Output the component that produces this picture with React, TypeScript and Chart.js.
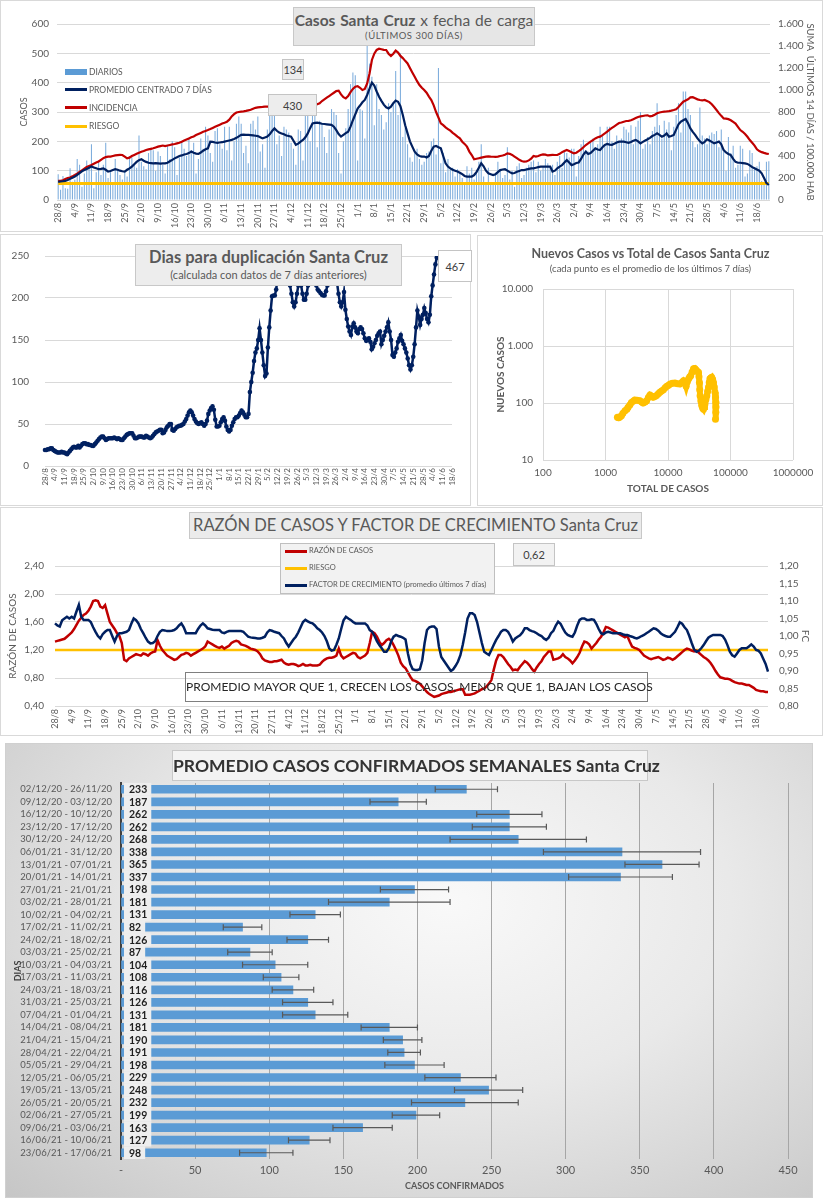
import React, { useEffect, useRef } from "react";
import { Chart, registerables } from "chart.js";
Chart.register(...registerables);

const FONT = "Lato, 'Open Sans', sans-serif";
Chart.defaults.font.family = FONT;
Chart.defaults.color = "#595959";
const GRID = "#D9D9D9";
const TXT = "#595959";
const NAVY = "#002060";
const RED = "#C00000";
const GOLD = "#FFC000";
const BLUE = "#5B9BD5";
const LIGHT_BLUE = "#7FAEDD";

function buildDays(n: number): string[] {
  const out: string[] = [];
  for (let i = 0; i < n; i++) {
    const d = new Date(2020, 7, 28 + i);
    out.push(d.getDate() + "/" + (d.getMonth() + 1));
  }
  return out;
}
const DAYS = buildDays(300);

// --- Chart 1: casos diarios ---
const DIARIOS = [
  88,35,82,40,38,108,62, 70,140,120,45,90,135,110, 190,40,95,130,85,120,195, 75,95,60,140,105,85,70,
  100,80,150,145,120,110,220, 130,115,105,160,175,170,100, 165,150,120,90,185,140,200, 180,85,145,200,175,150,210,
  170,195,90,140,210,175,250, 220,160,130,235,245,190,175, 250,170,250,135,200,260,285, 260,160,185,125,260,270,240,
  285,165,190,110,240,300,310, 290,190,220,150,250,240,230, 195,175,120,240,235,135,320, 290,200,330,320,180,270,260,
  215,160,240,310,300,290,160, 90,200,245,310,395,435,425, 135,310,305,210,530,465,420, 255,395,310,290,240,265,330,
  300,330,440,290,500,215,245, 190,145,130,160,175,140,120, 130,160,165,200,210,155,450, 125,160,95,140,105,110,80,
  105,90,75,60,115,90,110, 70,95,130,190,80,60,110, 55,60,90,130,105,75,85, 180,70,100,45,115,125,75,
  85,110,120,130,135,95,130, 100,115,140,125,110,120,85, 130,150,110,165,160,145,175, 175,80,150,190,205,170,165,
  195,210,175,190,250,220,190, 250,250,200,175,220,200,210, 250,240,230,255,190,250,270, 300,175,190,215,190,235,250,
  330,255,210,270,240,265,170, 250,290,330,230,370,370,310, 290,200,180,190,315,220,210, 190,220,230,225,235,180,240,
  165,100,215,160,185,110,120, 185,175,80,90,170,160,110, 115,130,65,60,130,132,
];
const PROMEDIO_7D = [
  62,63,64,65,68,72,76,80,86,92, 98,102,106,110,114,111,108,105,106,108, 103,97,99,102,105,103,100,98,97,103,
  108,114,122,130,136,139,134,130,127,126, 125,126,125,124,125,125,127,132,137,142, 146,150,152,155,157,160,165,161,158,157,
  162,168,173,176,199,198,196,195,196,197, 199,201,203,205,208,212,217,222,223,222, 222,221,220,219,218,214,210,213,216,224,
  235,244,236,230,227,224,220,218,216,202, 188,192,199,205,214,227,245,261,263,264, 262,260,259,258,257,256,250,238,225,216,
  222,228,233,250,272,292,312,322,333,341, 358,380,400,390,370,352,338,325,316,312, 318,330,339,335,320,290,255,227,200,182,
  165,155,150,148,148,145,150,168,182,184, 180,176,150,125,114,108,103,100,97,93, 88,82,80,80,80,85,95,110,125,115,
  100,91,88,85,88,95,102,104,105,100, 95,91,92,96,99,102,102,104,106,108, 108,110,112,114,114,114,114,114,97,100,
  108,114,119,128,136,128,119,122,126,128, 140,155,165,157,160,168,176,172,170,180, 188,191,189,188,192,196,199,199,199,197,
  195,198,202,205,200,193,198,203,207,212, 218,222,227,222,216,220,227,216,218,222, 240,258,267,272,276,262,244,232,222,210,
  200,193,198,207,203,198,193,196,199,190, 170,162,157,153,140,130,127,127,126,125, 123,118,112,108,104,100,91,75,58,51,
];
const INCIDENCIA = [
  173,175,180,190,200,205,215,227,240,255, 270,285,300,310,318,330,340,350,365,380, 390,394,395,400,405,408,410,409,395,379,
  385,400,410,420,430,439,445,455,460,465, 470,478,485,490,495,490,495,500,505,509, 515,520,530,540,550,560,570,578,590,600,
  610,620,628,636,645,655,665,675,685,695, 703,712,730,760,780,795,800,803,806,810, 815,820,830,838,842,845,846,848,848,848,
  848,848,846,845,846,848,850,852,853,850, 848,846,845,848,850,855,858,860,864,870, 880,900,915,930,945,960,975,990,994,960,
  935,924,945,980,1010,1030,1035,1020,1000,1010, 1060,1150,1273,1330,1364,1375,1370,1365,1364,1330, 1309,1330,1358,1340,1310,1290,1265,1242,1200,1160,
  1120,1080,1045,1020,1000,975,940,909,860,800, 750,697,680,660,645,630,610,595,576,560, 530,510,485,440,409,370,375,380,385,390,
  394,396,394,393,392,395,400,405,412,424, 420,410,395,380,365,355,348,350,360,375, 400,395,400,409,415,412,405,408,410,409,
  409,420,435,445,455,445,435,424,430,445, 460,480,500,515,530,545,560,570,576,590, 605,621,640,655,670,685,700,705,712,718,
  720,725,735,745,755,760,764,768,770,760, 765,775,788,795,800,803,805,808,812,818, 825,845,870,894,905,915,933,935,925,915,
  909,905,910,900,890,870,845,818,790,765, 742,740,735,725,710,695,665,636,620,600, 575,545,520,495,461,445,435,428,422,418,
];
const RIESGO_INCIDENCIA = 150;

// --- Chart 2: días para duplicación ---
const DUPLICACION = [
  19,19,20,20,21,21,19,18,17,16, 16,16,17,16,16,15,14,16,18,20, 22,23,22,22,24,22,24,26,27,27,
  26,26,25,25,24,24,26,28,30,32, 34,35,35,33,31,32,33,33,33,33, 34,33,32,33,32,31,31,33,35,37,
  38,39,39,39,36,33,33,34,35,35, 35,34,34,36,35,34,33,34,36,38, 40,41,42,43,43,39,40,43,46,48,
  50,50,43,42,44,46,47,48,48,49, 50,53,56,60,64,66,64,60,56,53, 51,50,51,52,50,48,50,54,62,66,
  69,71,67,55,47,47,48,52,56,58, 54,47,43,41,43,48,52,56,58,58, 60,63,66,64,61,58,58,62,88,100,
  111,125,135,140,150,164,150,135,120,107, 110,141,165,185,202,203,203,210,225,240, 250,260,255,245,235,228,220,215,205,195,
  190,195,205,215,225,215,205,198,198,205, 215,225,235,240,235,225,215,210,208,206, 204,203,203,208,215,225,235,240,238,232,
  225,218,205,195,190,195,207,186,175,166, 160,156,166,170,165,160,158,163,165,163, 158,152,149,150,152,148,139,142,146,150,
  155,158,160,145,150,155,160,165,171,160, 150,132,130,135,140,148,152,156,149,145, 140,135,128,120,115,120,130,145,165,185,
  178,168,175,180,188,182,175,171,180,202, 215,228,240,248,250,265,300,360,420,467,
];

// --- Chart 3: nuevos casos vs total ---
const TOTAL_CASOS = [
  1550,1620,1700,1800,1900,2050,2200,2300,2450,2600,2800,2950,3200,3550,3800,4000,4300,4550,4850,5150,
  5500,5800,6150,6550,7000,7400,7900,8450,9000,9550,10200,10800,11800,12900,14200,15500,16600,17700,18600,19500,
  20400,21400,22200,23100,24300,25600,26800,28000,29300,30700,31300,31800,32200,32600,33600,34700,35800,37000,38000,39000,
  40400,41800,43100,44500,45700,46900,48400,50000,51700,53400,55000,56500,57600,58600,58600,58300,57500,
];
const NUEVOS_CASOS = [
  56,55,57,60,66,73,78,84,92,102,108,113,112,110,104,100,104,110,125,138,
  132,126,130,135,145,154,162,171,185,196,205,215,222,224,218,215,228,245,232,196,
  235,265,285,302,350,397,405,382,360,346,290,230,170,134,108,90,82,78,85,96,
  115,134,160,188,230,265,275,283,260,230,190,154,125,102,85,69,52,
];

// --- Chart 4: razón de casos y factor de crecimiento ---
const RAZON = [
  1.32,1.33,1.34,1.35,1.36,1.39,1.42,1.45,1.50,1.56, 1.62,1.66,1.70,1.72,1.76,1.82,1.90,1.91,1.90,1.82,
  1.80,1.84,1.72,1.60,1.55,1.50,1.44,1.40,1.30,1.06, 1.04,1.08,1.10,1.12,1.14,1.13,1.12,1.15,1.14,1.12,
  1.15,1.17,1.18,1.34,1.26,1.20,1.16,1.12,1.10,1.08, 1.06,1.07,1.10,1.13,1.14,1.16,1.15,1.12,1.14,1.16,
  1.18,1.20,1.22,1.25,1.32,1.30,1.28,1.26,1.24,1.23, 1.25,1.22,1.24,1.26,1.30,1.32,1.33,1.32,1.28,1.27,
  1.26,1.24,1.22,1.21,1.20,1.18,1.14,1.08,1.05,1.04, 1.03,1.03,1.04,1.04,1.05,1.06,1.02,1.00,0.99,1.00,
  1.00,0.99,0.97,0.98,1.00,0.98,0.98,0.99,0.98,0.98, 0.98,0.99,1.03,1.06,1.08,1.09,1.09,1.10,1.12,1.22,
  1.12,1.08,1.10,1.12,1.14,1.16,1.15,1.10,1.08,1.10, 1.12,1.16,1.30,1.46,1.44,1.39,1.32,1.27,1.30,1.34,
  1.36,1.33,1.27,1.20,1.12,1.02,0.97,0.94,0.88,0.82, 0.77,0.76,0.74,0.72,0.68,0.64,0.60,0.57,0.55,0.53,
  0.54,0.55,0.57,0.58,0.59,0.60,0.60,0.61,0.62,0.63, 0.64,0.64,0.56,0.56,0.56,0.57,0.58,0.60,0.62,0.64,
  0.65,0.68,0.72,0.77,0.92,1.05,1.13,1.13,1.10,1.05, 1.00,0.96,0.91,0.92,0.91,0.96,1.00,1.04,1.02,0.98,
  0.93,0.89,0.95,1.00,1.04,1.10,1.14,1.18,1.18,1.06, 1.07,1.08,1.10,1.14,1.10,1.08,1.05,1.01,1.05,1.10,
  1.16,1.25,1.32,1.31,1.28,1.22,1.26,1.30,1.35,1.39, 1.45,1.53,1.52,1.50,1.48,1.46,1.44,1.42,1.40,1.38,
  1.40,1.32,1.25,1.23,1.22,1.20,1.16,1.12,1.10,1.08, 1.07,1.08,1.09,1.10,1.08,1.06,1.07,1.09,1.08,1.06,
  1.08,1.11,1.14,1.17,1.20,1.22,1.21,1.19,1.18,1.19, 1.16,1.13,1.10,1.08,1.05,1.01,0.96,0.90,0.85,0.81,
  0.80,0.79,0.79,0.78,0.76,0.74,0.73,0.72,0.72,0.71, 0.70,0.70,0.68,0.66,0.63,0.62,0.61,0.61,0.60,0.60,
];
const FACTOR_CRECIMIENTO = [
  1.036,1.030,1.027,1.045,1.050,1.055,1.050,1.055,1.050,1.070, 1.089,1.055,1.046,1.046,1.046,1.040,1.025,1.012,1.000,0.993,
  1.005,1.012,1.017,1.017,1.000,0.984,1.000,1.008,1.008,1.010, 1.012,1.017,1.035,1.050,1.045,1.036,1.020,1.008,0.995,0.984,
  0.979,0.980,0.985,1.000,1.012,1.017,1.016,1.014,1.014,1.015, 1.017,1.022,1.030,1.036,1.025,1.008,1.008,1.008,1.008,1.008,
  1.020,1.030,1.036,1.030,1.022,1.020,1.018,1.017,1.017,1.017, 1.010,1.008,1.012,1.014,1.014,1.014,1.014,1.014,1.014,1.012,
  1.005,0.998,0.996,0.995,0.994,0.993,0.993,0.995,0.998,1.010, 1.017,1.015,1.012,1.010,1.008,1.000,0.993,0.980,0.970,0.980,
  0.990,0.998,1.010,1.025,1.040,1.046,1.042,1.038,1.036,1.030, 1.022,1.017,1.010,1.000,0.985,0.965,0.958,0.960,0.975,0.993,
  1.020,1.045,1.055,1.050,1.046,1.040,1.036,1.036,1.036,1.036, 1.036,1.030,1.017,1.012,1.000,0.985,0.974,0.965,0.955,0.955,
  0.965,0.985,0.998,1.003,1.000,0.998,0.995,0.990,0.950,0.920, 0.905,0.903,0.903,0.905,0.930,0.980,1.017,1.025,1.027,1.027,
  1.020,0.970,0.940,0.930,0.920,0.910,0.900,0.905,0.915,0.927, 0.945,0.975,1.010,1.050,1.065,1.065,1.060,1.040,1.010,0.980,
  0.955,0.950,0.946,0.960,0.975,0.989,1.000,1.012,1.017,1.017, 1.012,1.000,0.984,0.993,0.998,1.002,1.010,1.022,1.022,1.017,
  1.014,1.012,1.008,1.003,1.000,0.993,0.989,0.995,1.008,1.015, 1.030,1.041,1.035,1.022,1.010,1.003,1.000,0.998,1.010,1.030,
  1.046,1.050,1.050,1.046,1.046,1.048,1.046,1.035,1.020,1.008, 1.005,1.010,1.012,1.010,1.008,1.008,1.008,1.008,1.005,1.003,
  1.003,1.000,0.998,0.995,0.993,0.996,1.000,1.003,1.008,1.012, 1.017,1.022,1.020,1.015,1.008,1.003,1.000,0.998,0.998,1.005,
  1.012,1.025,1.039,1.035,1.025,1.017,1.000,0.980,0.962,0.955, 0.958,0.965,0.974,0.985,0.995,1.000,1.003,1.003,1.003,1.003,
  1.000,0.990,0.974,0.955,0.945,0.941,0.950,0.960,0.965,0.965, 0.965,0.970,0.976,0.970,0.960,0.958,0.950,0.935,0.920,0.898,
];
const RIESGO_RAZON = 1.2;

// --- Chart 5: promedio semanal ---
const SEMANAS = [
  "02/12/20 - 26/11/20","09/12/20 - 03/12/20","16/12/20 - 10/12/20","23/12/20 - 17/12/20","30/12/20 - 24/12/20",
  "06/01/21 - 31/12/20","13/01/21 - 07/01/21","20/01/21 - 14/01/21","27/01/21 - 21/01/21","03/02/21 - 28/01/21",
  "10/02/21 - 04/02/21","17/02/21 - 11/02/21","24/02/21 - 18/02/21","03/03/21 - 25/02/21","10/03/21 - 04/03/21",
  "17/03/21 - 11/03/21","24/03/21 - 18/03/21","31/03/21 - 25/03/21","07/04/21 - 01/04/21","14/04/21 - 08/04/21",
  "21/04/21 - 15/04/21","28/04/21 - 22/04/21","05/05/21 - 29/04/21","12/05/21 - 06/05/21","19/05/21 - 13/05/21",
  "26/05/21 - 20/05/21","02/06/21 - 27/05/21","09/06/21 - 03/06/21","16/06/21 - 10/06/21","23/06/21 - 17/06/21",
];
const PROMEDIO_SEMANAL = [233,187,262,262,268,338,365,337,198,181,131,82,126,87,104,108,116,126,131,181,190,191,198,229,248,232,199,163,127,98];
const ERROR_SEMANAL = [21,19,22,25,46,53,25,35,23,41,17,13,14,15,22,12,14,17,22,19,13,11,20,24,23,36,16,20,14,18];

const miles = (v: number) => String(Math.round(v)).replace(/\B(?=(\d{3})+(?!\d))/g, ".");
const coma = (v: number, d: number) => v.toFixed(d).replace(".", ",");

const weeklyTicks = (size: number, pad: number) => ({
  autoSkip: false,
  minRotation: 90,
  maxRotation: 90,
  padding: pad,
  font: { size },
  color: TXT,
  callback: (_v: any, i: number) => (i % 7 === 0 ? DAYS[i] : ""),
});

const base = {
  animation: false,
  responsive: false,
  events: [],
  plugins: { legend: { display: false }, tooltip: { enabled: false } },
};

function ChartBox({ left, top, width, height, make }: { left: number; top: number; width: number; height: number; make: () => any }) {
  const ref = useRef<HTMLCanvasElement | null>(null);
  useEffect(() => {
    if (!ref.current) return;
    const chart = new Chart(ref.current, make());
    return () => chart.destroy();
  }, []);
  return <canvas ref={ref} width={width} height={height} style={{ position: "absolute", left, top, width, height }} />;
}

const makeCasos = () => ({
  type: "bar",
  data: {
    labels: DAYS,
    datasets: [
      { type: "line", label: "PROMEDIO CENTRADO 7 DÍAS", data: PROMEDIO_7D, borderColor: NAVY, borderWidth: 2.2, pointRadius: 0, yAxisID: "y", order: 1 },
      { type: "line", label: "INCIDENCIA", data: INCIDENCIA, borderColor: RED, borderWidth: 2.2, pointRadius: 0, yAxisID: "y2", order: 2 },
      { type: "line", label: "RIESGO", data: DAYS.map(() => RIESGO_INCIDENCIA), borderColor: GOLD, borderWidth: 3, pointRadius: 0, yAxisID: "y2", order: 3 },
      { type: "bar", label: "DIARIOS", data: DIARIOS, backgroundColor: LIGHT_BLUE, yAxisID: "y", order: 4, categoryPercentage: 0.9, barPercentage: 0.5 },
    ],
  },
  options: {
    ...base,
    layout: { padding: { top: 24, left: 0, right: 0, bottom: 0 } },
    scales: {
      x: { ticks: weeklyTicks(9, 3), grid: { display: false, drawTicks: false }, border: { display: false }, afterFit: (s: any) => { s.height = 32; } },
      y: {
        position: "left", min: 0, max: 600,
        ticks: { stepSize: 100, padding: 8, font: { size: 10 }, color: TXT },
        grid: { color: GRID, drawTicks: false }, border: { display: false },
        title: { display: true, text: "CASOS", font: { size: 9 }, color: TXT, padding: { top: 19, bottom: 0 } },
        afterFit: (s: any) => { s.width = 57; },
      },
      y2: {
        position: "right", min: 0, max: 1600,
        ticks: { stepSize: 200, padding: 8, font: { size: 10 }, color: TXT, callback: (v: any) => miles(v) },
        grid: { display: false, drawTicks: false }, border: { display: false },
        title: { display: true, text: "SUMA  ÚLTIMOS 14 DÍAS / 100.000 HAB", font: { size: 9.5 }, color: TXT, padding: { top: 7, bottom: 0 } },
        afterFit: (s: any) => { s.width = 53; },
      },
    },
  },
});

const makeDuplicacion = () => ({
  type: "line",
  data: {
    labels: DAYS.slice(0, 295),
    datasets: [
      { label: "Días para duplicación", data: DUPLICACION, borderColor: NAVY, borderWidth: 2.5, pointRadius: 2.3, pointBackgroundColor: NAVY, pointBorderWidth: 0 },
    ],
  },
  options: {
    ...base,
    layout: { padding: { top: 12, left: 0, right: 18, bottom: 0 } },
    scales: {
      x: { ticks: weeklyTicks(8, 2), grid: { display: false, drawTicks: false }, border: { display: false }, afterFit: (s: any) => { s.height = 39; } },
      y: {
        min: 0, max: 250,
        ticks: { stepSize: 50, padding: 16, font: { size: 10 }, color: TXT },
        grid: { color: GRID, drawTicks: false }, border: { display: false },
        afterFit: (s: any) => { s.width = 45; },
      },
    },
  },
});

const logTicks = (vals: number[]) => (s: any) => { s.ticks = vals.map((value) => ({ value })); };

const makeScatter = () => ({
  type: "scatter",
  data: {
    datasets: [
      {
        label: "Nuevos casos",
        data: TOTAL_CASOS.map((t, i) => ({ x: t, y: NUEVOS_CASOS[i] })),
        showLine: true, borderColor: GOLD, borderWidth: 6, backgroundColor: GOLD, pointRadius: 3.5, pointBorderWidth: 0,
      },
    ],
  },
  options: {
    ...base,
    layout: { padding: { top: 53, left: 0, right: 30, bottom: 0 } },
    scales: {
      x: {
        type: "logarithmic", min: 100, max: 1000000,
        afterBuildTicks: logTicks([100, 1000, 10000, 100000, 1000000]),
        ticks: { padding: 7, font: { size: 10 }, color: TXT, callback: (v: any) => String(v) },
        grid: { color: GRID, drawTicks: false }, border: { display: false },
        title: { display: true, text: "TOTAL DE CASOS", font: { size: 10, weight: "bold" }, color: TXT, padding: { top: 0, bottom: 10 } },
        afterFit: (s: any) => { s.height = 45; },
      },
      y: {
        type: "logarithmic", min: 10, max: 10000,
        afterBuildTicks: logTicks([10, 100, 1000, 10000]),
        ticks: { padding: 10, font: { size: 10 }, color: TXT, callback: (v: any) => miles(v) },
        grid: { color: GRID, drawTicks: false }, border: { display: false },
        title: { display: true, text: "NUEVOS CASOS", font: { size: 10, weight: "bold" }, color: TXT, padding: { top: 17, bottom: 0 } },
        afterFit: (s: any) => { s.width = 65; },
      },
    },
  },
});

const makeRazon = () => ({
  type: "line",
  data: {
    labels: DAYS,
    datasets: [
      { label: "RAZÓN DE CASOS", data: RAZON, borderColor: RED, borderWidth: 2.5, pointRadius: 0, yAxisID: "y", order: 2 },
      { label: "RIESGO", data: DAYS.map(() => RIESGO_RAZON), borderColor: GOLD, borderWidth: 2.5, pointRadius: 0, yAxisID: "y", order: 3 },
      { label: "FACTOR DE CRECIMIENTO (promedio últimos 7 días)", data: FACTOR_CRECIMIENTO, borderColor: NAVY, borderWidth: 2.5, pointRadius: 0, yAxisID: "y2", order: 1 },
    ],
  },
  options: {
    ...base,
    layout: { padding: { top: 59, left: 0, right: 0, bottom: 0 } },
    scales: {
      x: { ticks: weeklyTicks(9, 3), grid: { display: false, drawTicks: false }, border: { display: false }, afterFit: (s: any) => { s.height = 29; } },
      y: {
        position: "left", min: 0.4, max: 2.4,
        ticks: { stepSize: 0.2, padding: 11, font: { size: 10 }, color: TXT, callback: (v: any) => coma(v, 2) },
        grid: { color: GRID, drawTicks: false }, border: { display: false },
        title: { display: true, text: "RAZÓN DE CASOS", font: { size: 10 }, color: TXT, padding: { top: 7, bottom: 0 } },
        afterFit: (s: any) => { s.width = 55; },
      },
      y2: {
        position: "right", min: 0.8, max: 1.2,
        ticks: { stepSize: 0.05, padding: 11, font: { size: 10 }, color: TXT, callback: (v: any) => coma(v, 2) },
        grid: { display: false, drawTicks: false }, border: { display: false },
        title: { display: true, text: "FC", font: { size: 10 }, color: TXT, padding: { top: 12, bottom: 0 } },
        afterFit: (s: any) => { s.width = 55; },
      },
    },
  },
});

const barExtras = {
  id: "barExtras",
  afterDatasetsDraw(chart: any) {
    const { ctx } = chart;
    const x = chart.scales.x;
    const meta = chart.getDatasetMeta(0);
    const x0 = x.getPixelForValue(0);
    ctx.save();
    ctx.strokeStyle = "#595959";
    ctx.lineWidth = 1.2;
    meta.data.forEach((bar: any, i: number) => {
      const v = PROMEDIO_SEMANAL[i];
      const e = ERROR_SEMANAL[i];
      const xa = x.getPixelForValue(v - e);
      const xb = x.getPixelForValue(v + e);
      const y = bar.y;
      ctx.beginPath();
      ctx.moveTo(xa, y); ctx.lineTo(xb, y);
      ctx.moveTo(xa, y - 3); ctx.lineTo(xa, y + 3);
      ctx.moveTo(xb, y - 3); ctx.lineTo(xb, y + 3);
      ctx.stroke();
    });
    ctx.font = `bold 10.5px ${FONT}`;
    ctx.textBaseline = "middle";
    meta.data.forEach((bar: any, i: number) => {
      const t = String(PROMEDIO_SEMANAL[i]);
      const w = ctx.measureText(t).width;
      ctx.fillStyle = "#EEEEEE";
      ctx.fillRect(x0 + 3, bar.y - 6.3, w + 9, 12.6);
      ctx.fillStyle = "#1F1F1F";
      ctx.fillText(t, x0 + 8, bar.y + 0.5);
    });
    ctx.restore();
  },
};

const makeSemanal = () => ({
  type: "bar",
  data: {
    labels: SEMANAS,
    datasets: [{ label: "Promedio semanal", data: PROMEDIO_SEMANAL, backgroundColor: BLUE, barThickness: 8 }],
  },
  plugins: [barExtras],
  options: {
    ...base,
    indexAxis: "y",
    layout: { padding: { top: 40, left: 0, right: 25, bottom: 0 } },
    scales: {
      x: {
        min: 0, max: 450,
        ticks: { stepSize: 50, padding: 5, font: { size: 11 }, color: TXT, callback: (v: any) => (v === 0 ? "-" : String(v)) },
        grid: { color: "#A6A6A6", drawTicks: false }, border: { display: false },
        title: { display: true, text: "CASOS CONFIRMADOS", font: { size: 9, weight: "bold" }, color: TXT, padding: { top: 0, bottom: 7 } },
        afterFit: (s: any) => { s.height = 39; },
      },
      y: {
        ticks: { autoSkip: false, padding: 9, font: { size: 9.5 }, color: TXT },
        grid: { display: false, drawTicks: false }, border: { display: true, color: "#404040", width: 2 },
        title: { display: true, text: "DIAS", font: { size: 9, weight: "bold" }, color: "#404040", padding: { top: 8, bottom: 0 } },
        afterFit: (s: any) => { s.width = 116; },
      },
    },
  },
});

const abs = (left: number, top: number, width: number, height: number, extra: React.CSSProperties = {}): React.CSSProperties => ({
  position: "absolute", left, top, width, height, boxSizing: "border-box", pointerEvents: "none", ...extra,
});

const labelBox = (left: number, top: number, width: number, height: number, text: string, bg: string) => (
  <div style={abs(left, top, width, height, { background: bg, border: "1px solid #C4C4C4", display: "flex", alignItems: "center", justifyContent: "center", fontSize: 11, color: "#404040" })}>{text}</div>
);

function LegendLine({ x, y, color, text, rect, size }: { x: number; y: number; color: string; text: string; rect?: boolean; size: number }) {
  return (
    <>
      <div style={abs(x, y - (rect ? 3 : 1.5), 22, rect ? 6 : 3, { background: color })} />
      <div style={abs(x + 24, y - 7, 260, 14, { fontSize: size, lineHeight: "14px", color: TXT, whiteSpace: "nowrap" })}>{text}</div>
    </>
  );
}

export default function App() {
  return (
    <div style={{ position: "absolute", left: 0, top: 0, width: 823, height: 1200, background: "#FFFFFF", fontFamily: FONT, overflow: "hidden" }}>
      {/* Panel 1 */}
      <div style={abs(0, 0, 823, 232, { border: "1px solid #D9D9D9" })} />
      <ChartBox left={0} top={0} width={823} height={232} make={makeCasos} />
      <div style={abs(293, 7, 242, 39, { background: "#E6E6E6", border: "1px solid #C8C8C8", textAlign: "center", color: TXT, whiteSpace: "nowrap" })}>
        <div style={{ fontSize: 15.5, lineHeight: "20px", marginTop: 2, wordSpacing: 1 }}><b>Casos Santa Cruz</b> x fecha de carga</div>
        <div style={{ fontSize: 9.5, lineHeight: "12px", letterSpacing: 0.5 }}>(ÚLTIMOS 300 DÍAS)</div>
      </div>
      <LegendLine x={65} y={71.5} color={BLUE} text="DIARIOS" rect size={8.5} />
      <LegendLine x={65} y={89.5} color={NAVY} text="PROMEDIO CENTRADO 7 DÍAS" size={8.5} />
      <LegendLine x={65} y={107.5} color={RED} text="INCIDENCIA" size={8.5} />
      <LegendLine x={65} y={126} color={GOLD} text="RIESGO" size={8.5} />
      {labelBox(282, 59, 22, 21, "134", "#EDEDED")}
      {labelBox(268, 94, 49, 22, "430", "#EDEDED")}

      {/* Panel 2 */}
      <div style={abs(0, 234, 471, 272, { border: "1px solid #D9D9D9" })} />
      <ChartBox left={0} top={234} width={470} height={271} make={makeDuplicacion} />
      <div style={abs(135, 244, 267, 42, { background: "#EDEDED", border: "1px solid #C8C8C8", textAlign: "center", color: TXT, whiteSpace: "nowrap" })}>
        <div style={{ fontSize: 16.5, fontWeight: 700, lineHeight: "21px", marginTop: 2 }}>Dias para duplicación Santa Cruz</div>
        <div style={{ fontSize: 11, lineHeight: "14px" }}>(calculada con datos de 7 días anteriores)</div>
      </div>
      {labelBox(438, 250, 34, 32, "467", "#FFFFFF")}

      {/* Panel 3 */}
      <div style={abs(477, 235, 346, 271, { border: "1px solid #D9D9D9" })} />
      <ChartBox left={478} top={236} width={345} height={269} make={makeScatter} />
      <div style={abs(478, 245, 345, 18, { textAlign: "center", fontSize: 12.5, fontWeight: 700, color: TXT, lineHeight: "18px", whiteSpace: "nowrap" })}>Nuevos Casos vs Total de Casos Santa Cruz</div>
      <div style={abs(478, 262, 345, 13, { textAlign: "center", fontSize: 9.5, color: TXT, lineHeight: "13px", whiteSpace: "nowrap" })}>(cada punto es el promedio de los últimos 7 días)</div>

      {/* Panel 4 */}
      <div style={abs(0, 507, 823, 229, { border: "1px solid #D9D9D9" })} />
      <ChartBox left={0} top={507} width={823} height={228} make={makeRazon} />
      <div style={abs(189, 512, 453, 27, { background: "#EBEBEB", border: "1px solid #C8C8C8", textAlign: "center", color: TXT, fontSize: 16.5, lineHeight: "25px", whiteSpace: "nowrap" })}>RAZÓN DE CASOS Y FACTOR DE CRECIMIENTO Santa Cruz</div>
      <div style={abs(280, 543, 215, 51, { background: "#F2F2F2", border: "1px solid #BFBFBF" })} />
      <LegendLine x={285} y={551} color={RED} text="RAZÓN DE CASOS" size={7.5} />
      <LegendLine x={285} y={568} color={GOLD} text="RIESGO" size={7.5} />
      <LegendLine x={285} y={585} color={NAVY} text="FACTOR DE CRECIMIENTO (promedio últimos 7 días)" size={7.5} />
      {labelBox(513, 543, 42, 23, "0,62", "#F2F2F2")}
      <div style={abs(185, 672, 463, 30, { border: "1px solid #7F7F7F", textAlign: "center", color: "#262626", fontSize: 12, lineHeight: "28px", whiteSpace: "nowrap" })}>PROMEDIO MAYOR QUE 1, CRECEN LOS CASOS, MENOR QUE 1, BAJAN LOS CASOS</div>

      {/* Panel 5 */}
      <div style={abs(5, 743, 808, 455, { border: "1px solid #D0D0D0", background: "radial-gradient(ellipse at 55% 35%, #F9F9F9 0%, #E9E9E9 45%, #C6C6C6 100%)" })} />
      <ChartBox left={5} top={743} width={808} height={455} make={makeSemanal} />
      <div style={abs(172, 750, 476, 31, { background: "#F3F3F3", border: "1px solid #C8C8C8", textAlign: "center", color: "#333333", fontSize: 17.5, fontWeight: 700, lineHeight: "29px", whiteSpace: "nowrap" })}>PROMEDIO CASOS CONFIRMADOS SEMANALES Santa Cruz</div>
    </div>
  );
}
